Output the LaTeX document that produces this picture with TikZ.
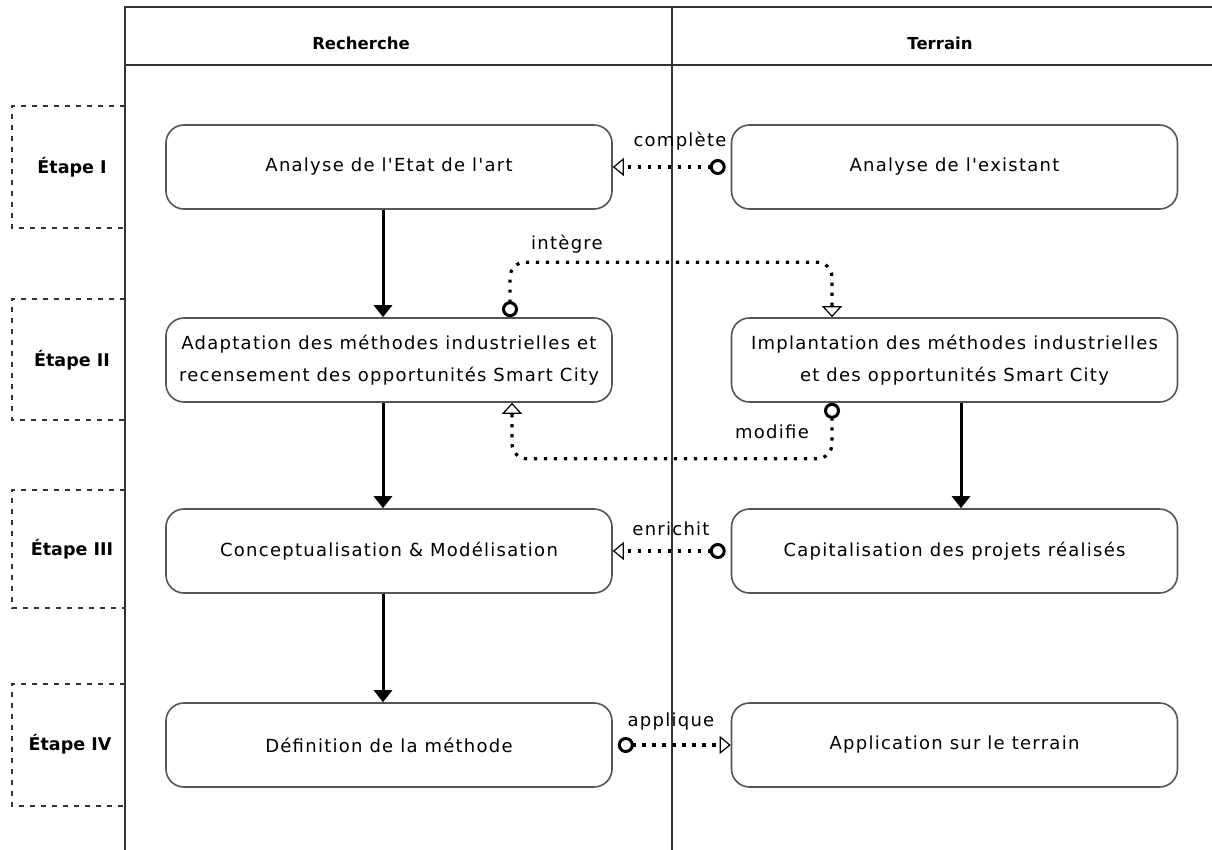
\documentclass[tikz,border=0pt]{standalone}
\usepackage{fontspec}
\setmainfont{DejaVu Sans}
\newfontfamily\spacedfont[LetterSpace=7]{DejaVu Sans}
\usetikzlibrary{arrows.meta,calc}
\definecolor{lanecol}{HTML}{333333}
\definecolor{boxcol}{HTML}{555555}
\tikzset{
  lane/.style={draw=lanecol,line width=1.6pt},
  stagebox/.style={draw=lanecol,line width=1.2pt,dash pattern=on 5pt off 6pt},
  stagelbl/.style={font=\fontsize{17.5}{20}\selectfont\bfseries,anchor=center},
  hdr/.style={font=\fontsize{16.5}{20}\selectfont\bfseries,anchor=center},
  task/.style={draw=boxcol,line width=1.6pt,rounded corners=18pt,minimum width=446pt,minimum height=84pt,align=center,font=\spacedfont\fontsize{18}{32}\selectfont,inner sep=0pt},
  flow/.style={line width=3pt,-{Triangle[length=12pt,width=18pt]}},
  assoc/.style={line width=3.2pt,dash pattern=on 3.2pt off 6.8pt,line cap=butt},
  lbl/.style={font=\spacedfont\fontsize{18}{20}\selectfont,anchor=center,inner sep=1pt}
}
\begin{document}
\begin{tikzpicture}[x=1pt,y=-1pt]
\useasboundingbox (0,0) rectangle (1212,850);
% lanes
\draw[lane] (125,850) -- (125,7) -- (1212,7);
\draw[lane] (125,65) -- (1212,65);
\draw[lane] (672,7) -- (672,850);
\node[hdr] (h1) at (361,43) {Recherche};
\node[hdr] (h2) at (940,43) {Terrain};
% stages
\draw[stagebox] (125,106) -- (12,106) -- (12,228) -- (125,228);
\draw[stagebox] (125,299) -- (12,299) -- (12,420) -- (125,420);
\draw[stagebox] (125,490) -- (12,490) -- (12,608) -- (125,608);
\draw[stagebox] (125,684) -- (12,684) -- (12,806) -- (125,806);
\node[stagelbl] (s1) at (72,167) {Étape I};
\node[stagelbl] (s2) at (72,360) {Étape II};
\node[stagelbl] (s3) at (72,549) {Étape III};
\node[stagelbl] (s4) at (70,744) {Étape IV};
% tasks
\node[task] (a1) at (389,167) {Analyse de l'Etat de l'art};
\node[task] (a2) at (389,360) {Adaptation des méthodes industrielles et\\recensement des opportunités Smart City};
\node[task] (a3) at (389,551) {Conceptualisation \& Modélisation};
\node[task] (a4) at (389,745) {Définition de la méthode};
\node[task] (b1) at (954.5,167) {Analyse de l'existant};
\node[task] (b2) at (954.5,360) {Implantation des méthodes industrielles\\et des opportunités Smart City};
\node[task] (b3) at (954.5,551) {Capitalisation des projets réalisés};
\node[task] (b4) at (954.5,745) {Application sur le terrain};
% flows
\draw[flow] ([xshift=-6pt]a1.south) -- ([xshift=-6pt]a2.north);
\draw[flow] ([xshift=-6pt]a2.south) -- ([xshift=-6pt]a3.north);
\draw[flow] ([xshift=-6pt]a3.south) -- ([xshift=-6pt]a4.north);
\draw[flow] ([xshift=6.5pt]b2.south) -- ([xshift=6.5pt]b3.north);
% associations
\draw[assoc,{Circle[open,line width=3pt,length=16pt,width=16pt]}-{Triangle[open,line width=1.2pt,length=11pt,width=18pt]}]
  ([xshift=-5pt]b1.west) -- (a1.east);
\node[lbl] (l1) at (680,141) {complète};
\draw[assoc,rounded corners=15pt,{Circle[open,line width=3pt,length=16pt,width=16pt]}-{Triangle[open,line width=1.2pt,length=11pt,width=20pt]}]
  ([xshift=121pt]a2.north) -- ++(0,-55) -| ([xshift=-122.5pt]b2.north);
\node[lbl] (l2) at (567,244) {intègre};
\draw[assoc,rounded corners=15pt,{Circle[open,line width=3pt,length=16pt,width=16pt]}-{Triangle[open,line width=1.2pt,length=11pt,width=20pt]}]
  ([xshift=-122.5pt]b2.south) -- ++(0,56) -| ([xshift=123pt]a2.south);
\node[lbl] (l3) at (772,432) {modifie};
\draw[assoc,{Circle[open,line width=3pt,length=16pt,width=16pt]}-{Triangle[open,line width=1.2pt,length=11pt,width=18pt]}]
  ([xshift=-5pt]b3.west) -- (a3.east);
\node[lbl] (l4) at (671,529) {enrichit};
\draw[assoc,{Circle[open,line width=3pt,length=16pt,width=16pt]}-{Triangle[open,line width=1.2pt,length=11pt,width=18pt]}]
  ([xshift=5pt]a4.east) -- (b4.west);
\node[lbl] (l5) at (671,722) {applique};
\end{tikzpicture}
\end{document}
